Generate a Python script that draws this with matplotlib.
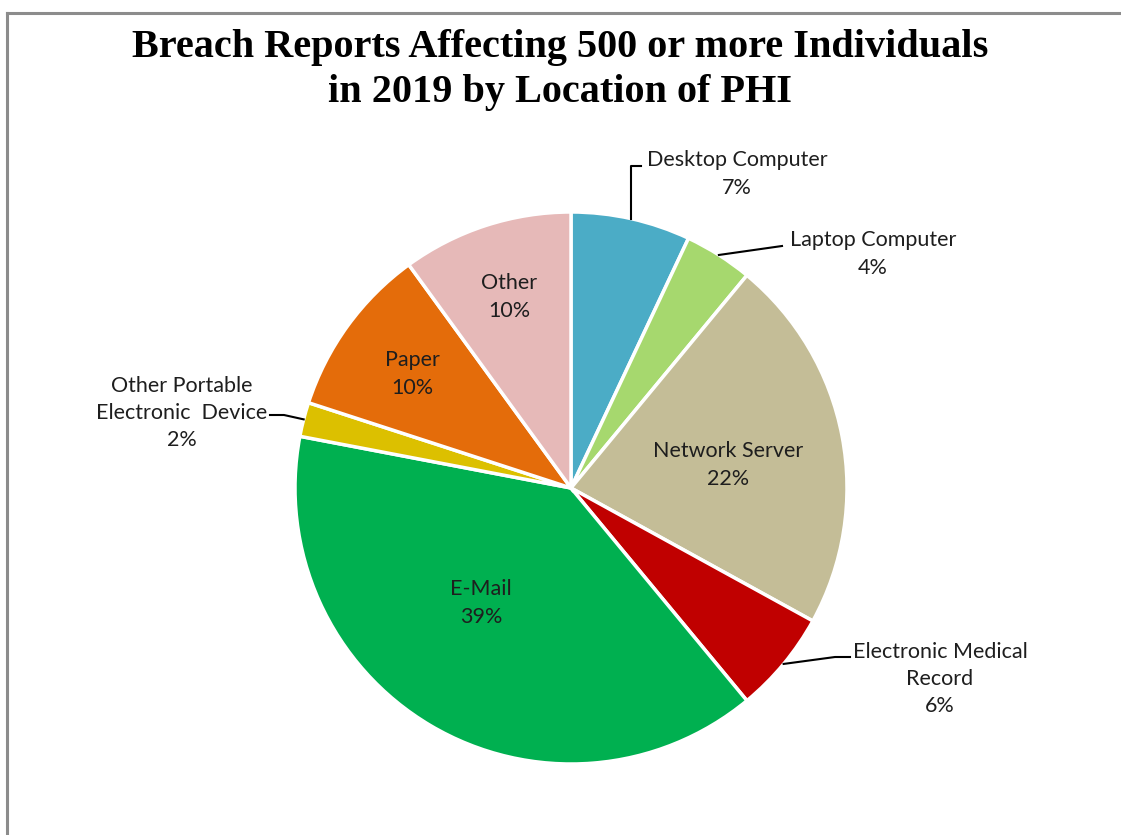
import numpy as np
import matplotlib
matplotlib.use("Agg")
import matplotlib.pyplot as plt
from matplotlib.lines import Line2D

# breach reports by location of PHI (percent of total), clockwise from top
locations = [
    "Desktop Computer",
    "Laptop Computer",
    "Network Server",
    "Electronic Medical\nRecord",
    "E-Mail",
    "Other Portable\nElectronic  Device",
    "Paper",
    "Other",
]
shares = [7, 4, 22, 6, 39, 2, 10, 10]
colors = ["#4BACC6", "#A6D86E", "#C4BD97", "#C00000",
          "#00B050", "#DCC000", "#E46C0A", "#E6B9B8"]

W, H = 1121, 835
fig = plt.figure(figsize=(W / 100, H / 100), dpi=100)

# pie centre / radius in pixels
cx, cy, r = 571, 488, 276
ax = fig.add_axes([(cx - r) / W, (H - cy - r) / H, 2 * r / W, 2 * r / H])
ax.set_aspect("equal")

wedges, _ = ax.pie(
    shares,
    colors=colors,
    startangle=90,
    counterclock=False,
    radius=1,
    wedgeprops=dict(edgecolor="white", linewidth=2.5),
)
ax.set_xlim(-1, 1)
ax.set_ylim(-1, 1)
ax.axis("off")

lab_font = dict(family=["Lato", "DejaVu Sans"], fontsize=15.5,
                color="#1E1E1E", ha="center", va="center", linespacing=1.45)


def px(x, y):
    # pixel position -> pie data coords
    return (x - cx) / r, (cy - y) / r


def edge_point(w):
    ang = np.deg2rad((w.theta1 + w.theta2) / 2)
    return np.cos(ang), np.sin(ang)


def leader(pts):
    xs, ys = zip(*pts)
    ax.add_line(Line2D(xs, ys, color="black", lw=1.5, clip_on=False))


# labels inside slices
inside = {2: (728, 465), 4: (481, 603), 6: (412, 374), 7: (509, 297)}
for i, (x, y) in inside.items():
    ax.text(*px(x, y), f"{locations[i]}\n{shares[i]}%", **lab_font)

# labels outside with leader lines
ax.text(*px(737, 174), f"{locations[0]}\n{shares[0]}%", **lab_font)
ex, ey = edge_point(wedges[0])
leader([(ex, ey), (ex, px(0, 166)[1]), px(641, 166)])

ax.text(*px(873, 254), f"{locations[1]}\n{shares[1]}%", **lab_font)
ex, ey = edge_point(wedges[1])
leader([(ex, ey), px(782, 246)])

ax.text(*px(940, 679), f"{locations[3]}\n{shares[3]}%", **lab_font)
ex, ey = edge_point(wedges[3])
leader([(ex, ey), px(835, 657), px(850, 657)])

ax.text(*px(182, 413), f"{locations[5]}\n{shares[5]}%", **lab_font)
ex, ey = edge_point(wedges[5])
leader([(ex, ey), px(284, 415), px(270, 415)])

fig.text(0.5, 1 - 70 / H,
         "Breach Reports Affecting 500 or more Individuals\nin 2019 by Location of PHI",
         ha="center", va="center", fontsize=29, fontweight="bold",
         family="Liberation Serif", linespacing=1.26)

# outer frame (top and left edges visible)
fig.add_artist(Line2D([7 / W, 1], [1 - 13 / H, 1 - 13 / H],
                      color="#8C8C8C", lw=2.2, transform=fig.transFigure))
fig.add_artist(Line2D([7 / W, 7 / W], [0, 1 - 13 / H],
                      color="#8C8C8C", lw=2.2, transform=fig.transFigure))

fig.savefig("out.png", dpi=100)
